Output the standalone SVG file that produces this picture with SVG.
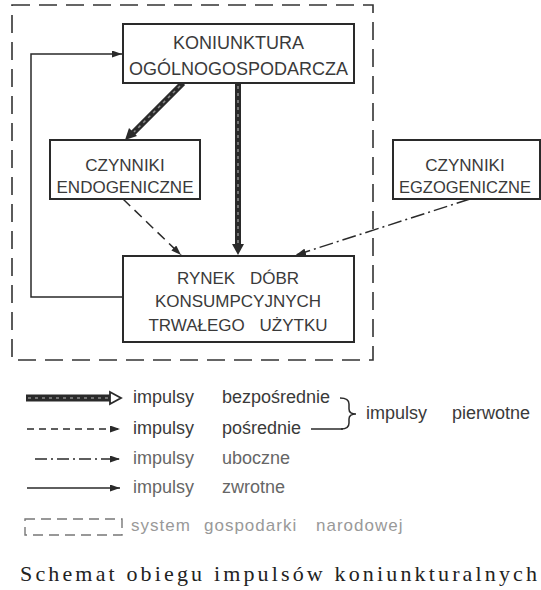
<svg xmlns="http://www.w3.org/2000/svg" width="541" height="590" viewBox="0 0 541 590">
<defs>
<marker id="ah" markerUnits="userSpaceOnUse" markerWidth="10" markerHeight="7" refX="10" refY="3.5" orient="auto">
<path d="M0,0 L10,3.5 L0,7 z" fill="#2a2a2a"/>
</marker>
<style>
.box{fill:#fff;stroke:#2a2a2a;stroke-width:2}
.lbl{font-family:"Liberation Sans",Arial,sans-serif;font-size:18px;fill:#3a3a3a;text-anchor:middle}
.leg{font-family:"Liberation Sans",Arial,sans-serif;font-size:18px;fill:#3a3a3a}
.ln{fill:none;stroke:#2a2a2a;stroke-width:1.5}
.thick{fill:none;stroke:#2a2a2a;stroke-width:6}
.tex{fill:none;stroke:#8a8a8a;stroke-width:1.5;stroke-dasharray:3 4}
.frame{fill:none;stroke:#333;stroke-width:1.6;stroke-dasharray:18 9}
</style>
</defs>
<rect width="541" height="590" fill="#fff"/>

<g id="system-frame">
<rect class="frame" x="12" y="5" width="361" height="355"/>
</g>

<g id="connectors">
<line class="thick" x1="238" y1="83" x2="238" y2="246"/>
<line class="tex" x1="238" y1="86" x2="238" y2="244"/>
<polygon points="232,244 244,244 238,255" fill="#2a2a2a"/>
<line class="thick" x1="183" y1="83" x2="132" y2="134"/>
<line class="tex" x1="180" y1="86" x2="134" y2="132"/>
<polygon points="125,140 137,136 129,128" fill="#2a2a2a"/>
<line class="ln" x1="123" y1="199" x2="181" y2="255" stroke-dasharray="10 6" marker-end="url(#ah)"/>
<line class="ln" x1="470" y1="199" x2="296" y2="255" stroke-dasharray="14 4 2 4" marker-end="url(#ah)"/>
<polyline class="ln" points="123,297 31,297 31,54 122,54" marker-end="url(#ah)"/>
</g>

<g id="koniunktura">
<rect class="box" x="123" y="24" width="231" height="59"/>
<text class="lbl" x="238.5" y="49">KONIUNKTURA</text>
<text class="lbl" x="238.5" y="75">OGÓLNOGOSPODARCZA</text>
</g>

<g id="endogeniczne">
<rect class="box" x="50" y="140" width="150" height="59"/>
<text class="lbl" x="125" y="171" style="font-size:17px">CZYNNIKI</text>
<text class="lbl" x="125" y="193" style="font-size:17px">ENDOGENICZNE</text>
</g>

<g id="egzogeniczne">
<rect class="box" x="393" y="140" width="147" height="59"/>
<text class="lbl" x="465" y="171" style="font-size:17px">CZYNNIKI</text>
<text class="lbl" x="465" y="193" style="font-size:16.5px">EGZOGENICZNE</text>
</g>

<g id="rynek">
<rect class="box" x="123" y="256" width="231" height="86"/>
<text class="lbl" x="238" y="284" style="font-size:17px;word-spacing:10px">RYNEK DÓBR</text>
<text class="lbl" x="238" y="307" style="font-size:17px">KONSUMPCYJNYCH</text>
<text class="lbl" x="238" y="331" style="font-size:17px;word-spacing:10px">TRWAŁEGO UŻYTKU</text>
</g>

<g id="legend">
<rect x="26" y="394.5" width="86" height="7" fill="#2a2a2a"/>
<line x1="28" y1="398" x2="110" y2="398" stroke="#8a8a8a" stroke-width="1.5" stroke-dasharray="3 4"/>
<polygon points="110,392 121,398 110,404" fill="#fff" stroke="#2a2a2a" stroke-width="1.8"/>
<text class="leg" x="133" y="403">impulsy</text>
<text class="leg" x="222" y="403">bezpośrednie</text>

<line class="ln" x1="27" y1="429" x2="120" y2="429" stroke-dasharray="7 5" marker-end="url(#ah)"/>
<text class="leg" x="133" y="434">impulsy</text>
<text class="leg" x="222" y="434">pośrednie</text>
<line class="ln" x1="311" y1="429" x2="343" y2="429"/>
<path class="ln" d="M340,398 Q349,398 349,404 L349,409 Q349,414 356,414 Q349,414 349,419 L349,423 Q349,429 341,429"/>
<text class="leg" x="366" y="419">impulsy</text>
<text class="leg" x="452" y="419">pierwotne</text>

<line class="ln" x1="35" y1="459" x2="120" y2="459" stroke="#555" stroke-dasharray="12 4 2 4" marker-end="url(#ah)"/>
<text class="leg" x="133" y="464" style="fill:#666">impulsy</text>
<text class="leg" x="222" y="464" style="fill:#666">uboczne</text>

<line class="ln" x1="27" y1="488" x2="120" y2="488" marker-end="url(#ah)"/>
<text class="leg" x="133" y="493" style="fill:#666">impulsy</text>
<text class="leg" x="222" y="493" style="fill:#666">zwrotne</text>

<rect x="25" y="519" width="97" height="16" fill="none" stroke="#777" stroke-width="1.4" stroke-dasharray="10 6"/>
<text class="leg" y="531" style="fill:#999;font-size:17px;letter-spacing:1px"><tspan x="131">system</tspan><tspan x="204">gospodarki</tspan><tspan x="316">narodowej</tspan></text>
</g>

<g id="title">
<text x="20" y="581" textLength="517" lengthAdjust="spacing" style="font-family:'Liberation Serif','Times New Roman',serif;font-size:22px;fill:#222">Schemat obiegu impulsów koniunkturalnych</text>
</g>
</svg>
